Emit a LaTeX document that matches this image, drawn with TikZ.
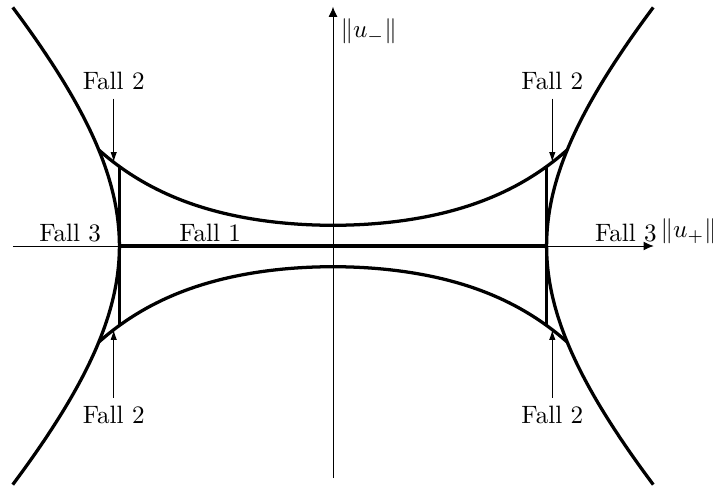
\documentclass[tikz,border=0pt]{standalone}
\usetikzlibrary{arrows.meta}

\begin{document}
\begin{tikzpicture}[
    kurve/.style={line width=1.3pt},
    achse/.style={-{Latex[length=4pt,width=3.5pt]}, thin},
    fallpfeil/.style={-{Latex[length=4pt,width=2.5pt]}, thin}]
  \useasboundingbox (-4.662,-3.402) rectangle (5.32,3.444);
  % Achsen
  \coordinate (xa) at (-4.48,0);
  \coordinate (xe) at (4.49,0);
  \coordinate (ya) at (0,-3.25);
  \coordinate (ye) at (0,3.35);
  \draw[achse] (xa) -- (xe);
  \draw[achse] (ya) -- (ye);
  \node (uplus) at (4.98,0.2) {$\|u_+\|$};
  \node (uminus) at (0.5,3.01) {$\|u_-\|$};
  % Hyperbeln links/rechts
  \draw[kurve] plot[domain=-0.962:0.962, smooth, samples=40]
    ({-2.99*cosh(\x)}, {2.99*sinh(\x)});
  \draw[kurve] plot[domain=-0.962:0.962, smooth, samples=40]
    ({2.99*cosh(\x)}, {2.99*sinh(\x)});
  % Kurven oben/unten
  \draw[kurve] plot[domain=-3.28:3.28, smooth, samples=50]
    (\x, {0.29*cosh(\x/1.48)});
  \draw[kurve] plot[domain=-3.28:3.28, smooth, samples=50]
    (\x, {-0.29*cosh(\x/1.48)});
  % Fall 1 und senkrechte Stuecke
  \coordinate (sl) at (-2.99,0);
  \coordinate (sr) at (2.99,0);
  \coordinate (lo) at (-2.99,{0.29*cosh(2.99/1.48)});
  \coordinate (lu) at (-2.99,{-0.29*cosh(2.99/1.48)});
  \coordinate (ro) at (2.99,{0.29*cosh(2.99/1.48)});
  \coordinate (ru) at (2.99,{-0.29*cosh(2.99/1.48)});
  \draw[kurve] (sl) -- (sr);
  \draw[kurve] (lo) -- (lu);
  \draw[kurve] (ro) -- (ru);
  \node (f1) at (-1.72,0.18) {Fall 1};
  \node (f3l) at (-3.68,0.18) {Fall 3};
  \node (f3r) at (4.10,0.18) {Fall 3};
  % Fall 2
  \node (f2lo) at (-3.07,2.31) {Fall 2};
  \node (f2lu) at (-3.07,-2.37) {Fall 2};
  \node (f2ro) at (3.07,2.31) {Fall 2};
  \node (f2ru) at (3.07,-2.37) {Fall 2};
  \coordinate (plo) at (-3.07,{0.29*cosh(3.07/1.48)});
  \coordinate (plu) at (-3.07,{-0.29*cosh(3.07/1.48)});
  \coordinate (pro) at (3.07,{0.29*cosh(3.07/1.48)});
  \coordinate (pru) at (3.07,{-0.29*cosh(3.07/1.48)});
  \draw[fallpfeil] (f2lo) -- (plo);
  \draw[fallpfeil] (f2lu) -- (plu);
  \draw[fallpfeil] (f2ro) -- (pro);
  \draw[fallpfeil] (f2ru) -- (pru);
\end{tikzpicture}
\end{document}
